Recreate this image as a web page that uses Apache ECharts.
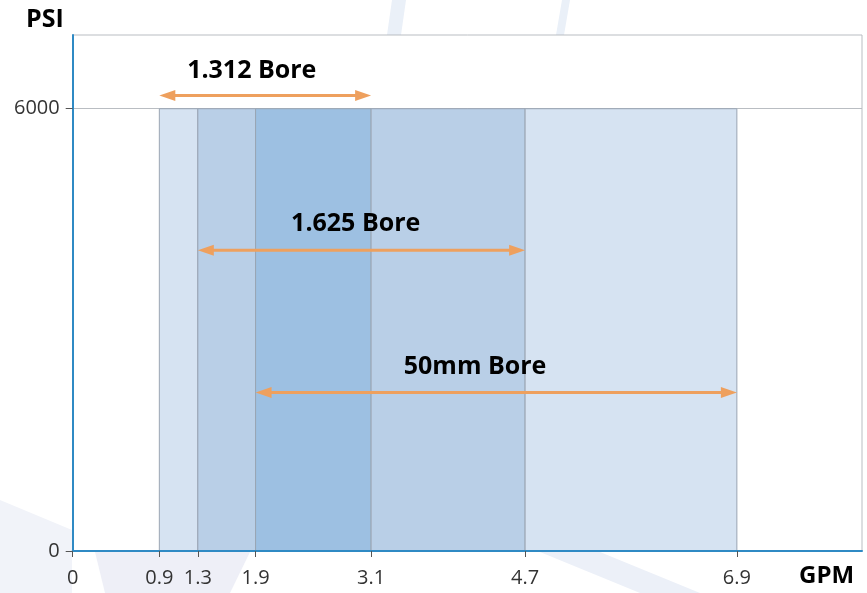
<!DOCTYPE html>
<html>
<head>
<meta charset="utf-8">
<script src="https://cdn.jsdelivr.net/npm/echarts@6/dist/echarts.min.js"></script>
<style>html,body{margin:0;padding:0;background:#fff;}#c{width:867px;height:593px;}</style>
</head>
<body>
<div id="c"></div>
<script>
// ---- data ----
const boreNames = ['1.312 Bore', '1.625 Bore', '50mm Bore'];
const boreMinGPM = [0.9, 1.3, 1.9];
const boreMaxGPM = [3.1, 4.7, 6.9];
const maxPSI = 6000;
const arrowPSI = [6180, 4080, 2150];
const labelGPM = [1.86, 2.94, 4.18];
const labelPSI = [6520, 4440, 2500];
const xTickValues = [0, 0.9, 1.3, 1.9, 3.1, 4.7, 6.9];
const yTickValues = [0, 6000];

// ---- derived segments (coverage count) ----
const breaks = Array.from(new Set(boreMinGPM.concat(boreMaxGPM))).sort((a, b) => a - b);
const segments = [];
for (let i = 0; i < breaks.length - 1; i++) {
  const a = breaks[i], b = breaks[i + 1], mid = (a + b) / 2;
  let n = 0;
  for (let k = 0; k < boreNames.length; k++) if (boreMinGPM[k] <= mid && boreMaxGPM[k] >= mid) n++;
  if (n > 0) segments.push([a, b, maxPSI, n]);
}
const fillByCount = ['#ffffff', '#D6E3F2', '#B9CFE7', '#9DC0E2'];
const arrowData = boreNames.map((n, i) => [boreMinGPM[i], boreMaxGPM[i], arrowPSI[i]]);
const labelData = boreNames.map((n, i) => [labelGPM[i], labelPSI[i], n]);

const orange = '#EEA05E';
const chart = echarts.init(document.getElementById('c'), null, {renderer: 'canvas'});
chart.setOption({
  animation: false,
  backgroundColor: '#ffffff',
  grid: {left: 72.7, right: 5, top: 35, bottom: 42, show: true, backgroundColor: '#ffffff', borderColor: '#B9BDC2', borderWidth: 1},
  graphic: [
    {type: 'polygon', z: -10, silent: true, shape: {points: [[392, 0], [406, 0], [401, 35], [387, 35]]}, style: {fill: '#EAF0F8'}},
    {type: 'polygon', z: -10, silent: true, shape: {points: [[562, 0], [570, 0], [564, 35], [556, 35]]}, style: {fill: '#EAF0F8'}},
    {type: 'polygon', z: -10, silent: true, shape: {points: [[0, 500], [72, 530], [72, 593], [0, 593]]}, style: {fill: '#F1F3F9'}},
    {type: 'polygon', z: -10, silent: true, shape: {points: [[95, 552], [250, 552], [230, 593], [105, 593]]}, style: {fill: '#EEEFF7'}},
    {type: 'polygon', z: -10, silent: true, shape: {points: [[540, 552], [600, 552], [700, 593], [640, 593]]}, style: {fill: '#ECF0F8'}},
    {type: 'text', left: 26, top: 7, style: {text: 'PSI', font: 'bold 25px "Open Sans"', fill: '#000'}},
    {type: 'text', left: 799, top: 564, style: {text: 'GPM', font: 'bold 24px "Open Sans"', fill: '#000'}}
  ],
  xAxis: {
    type: 'value', min: 0, max: 8.2, z: 10,
    axisLine: {show: true, lineStyle: {color: '#2F8AC4', width: 2}},
    axisTick: {show: true, customValues: xTickValues, length: 6, lineStyle: {color: '#555'}},
    axisLabel: {customValues: xTickValues, margin: 17, fontFamily: 'Open Sans', fontSize: 20, color: '#333',
      formatter: v => String(v)},
    splitLine: {show: false}
  },
  yAxis: {
    type: 'value', min: 0, max: 7000, interval: 6000,
    axisLine: {show: true, lineStyle: {color: '#2F8AC4', width: 2}},
    axisTick: {show: true, customValues: yTickValues, length: 7, lineStyle: {color: '#555'}},
    axisLabel: {customValues: yTickValues, margin: 13, fontFamily: 'Open Sans', fontSize: 20, color: '#333',
      formatter: v => String(v)},
    splitLine: {show: true, lineStyle: {color: '#B9BDC2', width: 1}}
  },
  series: [
    {
      type: 'custom', z: 2, silent: true,
      data: segments,
      renderItem: function (params, api) {
        const p0 = api.coord([api.value(0), api.value(2)]);
        const p1 = api.coord([api.value(1), 0]);
        return {
          type: 'rect',
          shape: {x: p0[0], y: p0[1], width: p1[0] - p0[0], height: p1[1] - p0[1]},
          style: {fill: fillByCount[api.value(3)], stroke: '#9AA5B3', lineWidth: 1}
        };
      }
    },
    {
      type: 'custom', z: 5, silent: true,
      data: arrowData,
      renderItem: function (params, api) {
        const a = api.coord([api.value(0), api.value(2)]);
        const b = api.coord([api.value(1), api.value(2)]);
        const L = 16, h = 5.5, y = a[1];
        return {
          type: 'group',
          children: [
            {type: 'line', shape: {x1: a[0] + L - 2, y1: y, x2: b[0] - L + 2, y2: y}, style: {stroke: orange, lineWidth: 3}},
            {type: 'polygon', shape: {points: [[a[0], y], [a[0] + L, y - h], [a[0] + L, y + h]]}, style: {fill: orange}},
            {type: 'polygon', shape: {points: [[b[0], y], [b[0] - L, y - h], [b[0] - L, y + h]]}, style: {fill: orange}}
          ]
        };
      }
    },
    {
      type: 'custom', z: 6, silent: true,
      data: labelData,
      renderItem: function (params, api) {
        const p = api.coord([api.value(0), api.value(1)]);
        return {
          type: 'text',
          x: p[0], y: p[1],
          style: {text: labelData[params.dataIndex][2], font: 'bold 25px "Open Sans"', fill: '#000', align: 'center', verticalAlign: 'middle'}
        };
      }
    }
  ]
});
</script>
</body>
</html>
